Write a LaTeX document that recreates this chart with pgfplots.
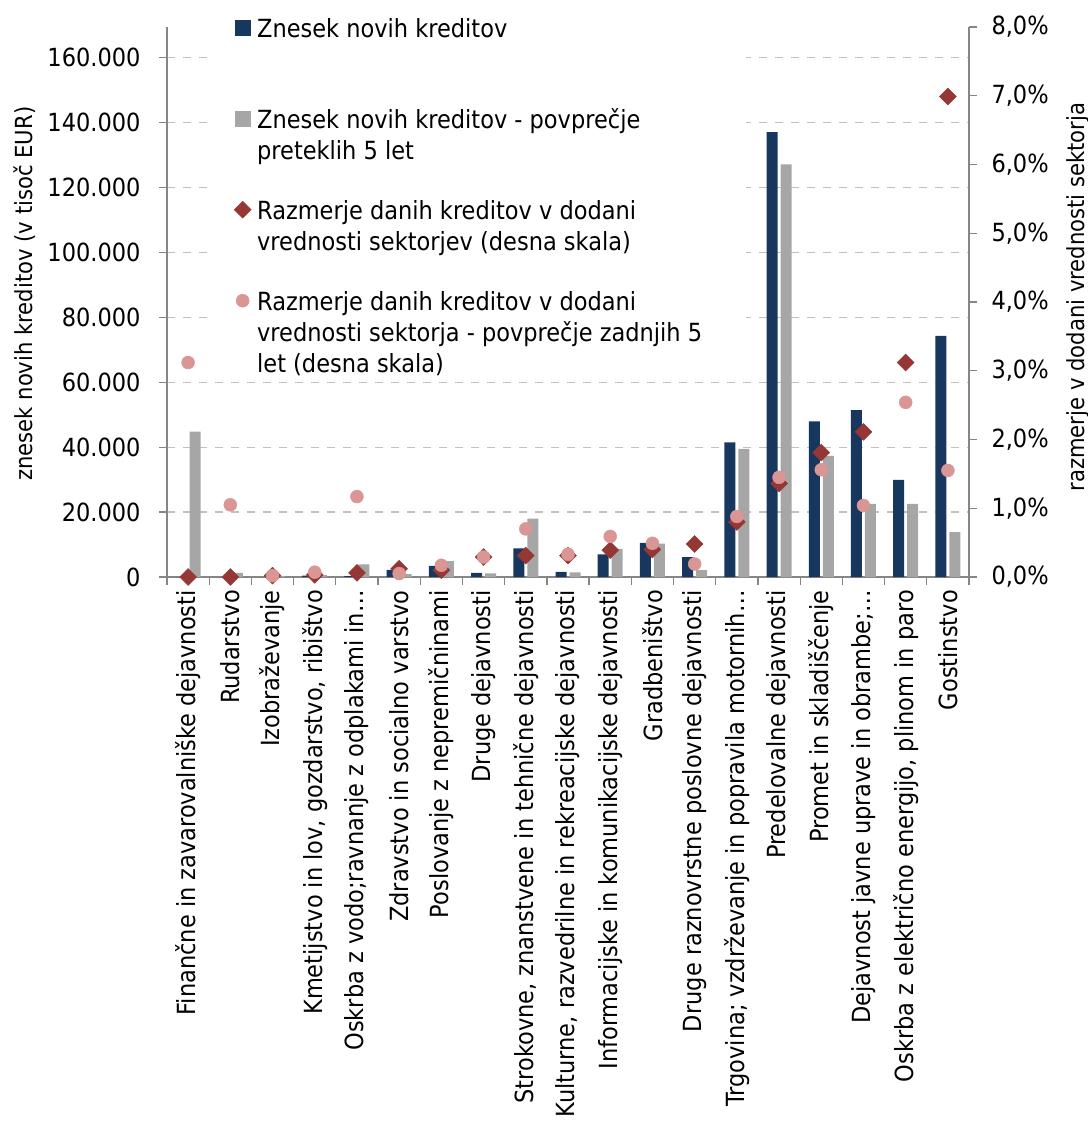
\documentclass[border=0pt]{standalone}
\usepackage{pgfplots}
\usepackage{pgfplotstable}
\pgfplotsset{compat=1.18}
\usepackage{fontspec}
\setmainfont{DejaVu Sans Condensed}
\definecolor{cblue}{HTML}{17375E}
\definecolor{cgray}{HTML}{A6A6A6}
\definecolor{cdia}{HTML}{953735}
\definecolor{ccirc}{HTML}{D99694}
\definecolor{caxis}{HTML}{868686}
\definecolor{cgrid}{HTML}{C0C0C0}
\pgfplotsset{markleg/.style={legend image code/.code={\draw[##1] plot coordinates {(7.5bp,9.5bp)};}}}

\pgfplotstableread{
x blue gray dia circ
0 0 44800 0.00 3.12
1 0 1300 0.00 1.05
2 0 300 0.02 0.02
3 400 600 0.03 0.07
4 300 3900 0.06 1.17
5 2200 900 0.12 0.05
6 3400 4900 0.10 0.17
7 1300 1100 0.29 0.29
8 8800 18000 0.31 0.70
9 1600 1400 0.31 0.33
10 7000 8700 0.39 0.59
11 10500 10300 0.40 0.49
12 6100 2100 0.48 0.19
13 41500 39500 0.80 0.88
14 137100 127200 1.36 1.45
15 48000 37300 1.81 1.56
16 51400 22500 2.11 1.04
17 29900 22500 3.12 2.54
18 74300 13800 6.99 1.55
}\data

\newcommand\tfont{\fontsize{25bp}{31bp}\selectfont}
\newcommand\lfont{\fontsize{23.5bp}{28bp}\selectfont}

\begin{document}
\begin{tikzpicture}
\begin{axis}[
  scale only axis, width=802bp, height=550bp,
  xmin=-0.5, xmax=18.5, ymin=0, ymax=169500,
  axis x line*=bottom, axis y line*=left,
  axis line style={draw=caxis, line width=1.3bp},
  tick style={draw=caxis, line width=1.3bp},
  tick align=outside, major tick length=8bp,
  xtick={-0.5,0.5,1.5,2.5,3.5,4.5,5.5,6.5,7.5,8.5,9.5,10.5,11.5,12.5,13.5,14.5,15.5,16.5,17.5,18.5},
  x tick label as interval,
  xticklabels={{Finančne in zavarovalniške dejavnosti},{Rudarstvo},{Izobraževanje},{Kmetijstvo in lov,  gozdarstvo, ribištvo},{Oskrba z vodo;ravnanje z odplakami in…},{Zdravstvo in socialno varstvo},{Poslovanje z nepremičninami},{Druge dejavnosti},{Strokovne, znanstvene in tehnične dejavnosti},{Kulturne, razvedrilne in rekreacijske dejavnosti},{Informacijske in komunikacijske dejavnosti},{Gradbeništvo},{Druge raznovrstne poslovne dejavnosti},{Trgovina; vzdrževanje in popravila motornih…},{Predelovalne dejavnosti},{Promet in skladiščenje},{Dejavnost javne uprave in obrambe;…},{Oskrba z električno energijo, plinom in paro},{Gostinstvo}},
  xticklabel style={rotate=90, anchor=east, font=\tfont, inner sep=5bp},
  ytick={0,20000,40000,60000,80000,100000,120000,140000,160000},
  ymajorgrids, grid style={draw=cgrid, line width=1.3bp, dash pattern=on 8bp off 8bp},
  scaled y ticks=false,
  yticklabel style={font=\tfont, xshift=-15bp, /pgf/number format/.cd, fixed, 1000 sep={.}, assume math mode=true},
  ylabel={znesek novih kreditov (v tisoč EUR)},
  ylabel style={font=\lfont, at={(axis description cs:-0.177,0.515)}, anchor=center},
  ybar=3bp, bar width=11bp,
]
\addplot[fill=cblue, draw=none] table[x=x,y=blue]{\data};
\addplot[fill=cgray, draw=none] table[x=x,y=gray]{\data};
\end{axis}
\begin{axis}[
  scale only axis, width=802bp, height=550bp,
  xmin=-0.5, xmax=18.5, ymin=0, ymax=8,
  axis x line=none, axis y line*=right,
  axis line style={draw=caxis, line width=1.3bp},
  tick style={draw=caxis, line width=1.3bp},
  tick align=outside, major tick length=8bp,
  ytick={0,1,2,3,4,5,6,7,8},
  yticklabel={\pgfmathprintnumber[fixed,fixed zerofill,precision=1,use comma,assume math mode=true]{\tick}\%},
  yticklabel style={font=\tfont, xshift=11bp},
  ylabel={razmerje v dodani vrednosti sektorja},
  ylabel style={font=\lfont, at={(axis description cs:1.136,0.509)}, anchor=center},
  legend style={at={(axis description cs:0.0536,1.0164)}, anchor=north west, draw=none, fill=white,
    inner xsep=24bp, inner ysep=0pt, row sep=0pt, column sep=6bp, font=\tfont,
    nodes={inner sep=0pt, text height=19bp, text depth=72bp}, cells={anchor=base west}},
]
\addlegendimage{legend image code/.code={\fill[cblue] (0bp,2bp) rectangle (15bp,17bp);}}
\addlegendimage{legend image code/.code={\fill[cgray] (0bp,2bp) rectangle (15bp,17bp);}}
\addplot[only marks, mark=square*, mark size=6bp, color=cdia, mark options={rotate=45, fill=cdia, draw=cdia}, markleg] table[x=x,y=dia]{\data};
\addplot[only marks, mark=*, mark size=6.5bp, color=ccirc, mark options={fill=ccirc, draw=ccirc}, markleg] table[x=x,y=circ]{\data};
\legend{
  {\parbox[t]{465bp}{Znesek novih kreditov}},
  {\parbox[t]{465bp}{Znesek novih kreditov - povprečje\\preteklih 5 let}},
  {\parbox[t]{465bp}{Razmerje danih kreditov v dodani\\vrednosti sektorjev (desna skala)}},
  {\parbox[t]{465bp}{Razmerje danih kreditov v dodani\\vrednosti sektorja - povprečje zadnjih 5\\let (desna skala)}}
}
\end{axis}
\pgfresetboundingbox
\path[use as bounding box] (-167bp,-565bp) rectangle (921bp,577bp);
\end{tikzpicture}
\end{document}
